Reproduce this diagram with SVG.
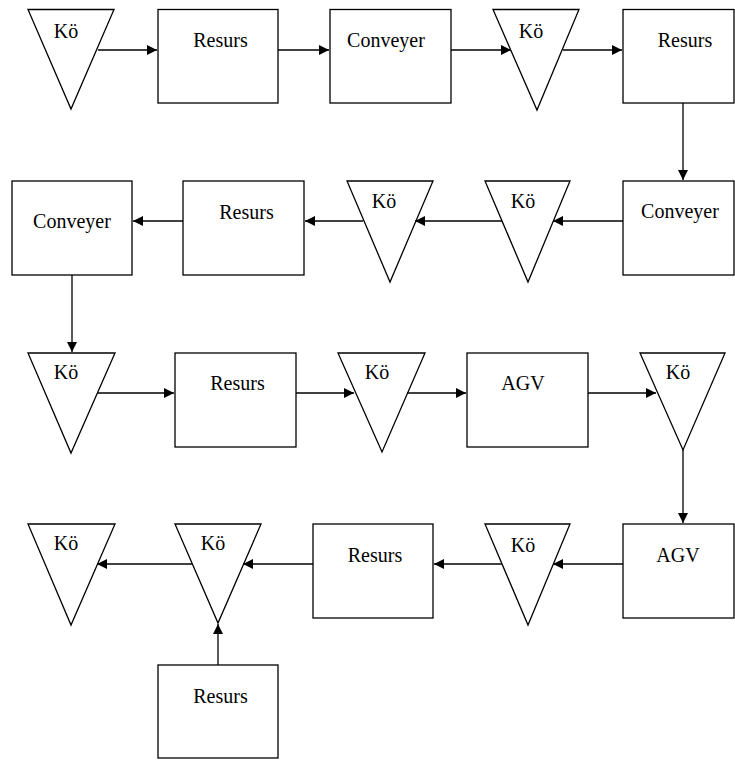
<svg xmlns="http://www.w3.org/2000/svg" width="735" height="760" viewBox="0 0 735 760">
  <style>
    .shape { fill: #ffffff; stroke: #000000; stroke-width: 1.3; }
    text { font-family: 'Liberation Serif', 'Times New Roman', serif; font-size: 20px; fill: #000000; text-anchor: middle; }
    .edge { fill: none; stroke: #000000; stroke-width: 1.3; marker-end: url(#arrow); }
  </style>
  <defs>
    <marker id="arrow" markerUnits="userSpaceOnUse" markerWidth="10" markerHeight="10" refX="10" refY="5" orient="auto">
      <path d="M0,0 L10,5 L0,10 z" fill="#000000"/>
    </marker>
  </defs>
  <rect x="0" y="0" width="735" height="760" fill="#ffffff"/>

  <g font-family="Liberation Serif, serif">
  <!-- Row 1 -->
  <g id="q1"><polygon class="shape" points="28,9.5 114,9.5 71,109"/><text x="66" y="38">Kö</text></g>
  <g id="r1"><rect class="shape" x="158" y="9.5" width="120" height="93.5"/><text x="220.5" y="47">Resurs</text></g>
  <g id="c1"><rect class="shape" x="330" y="9.5" width="121" height="93.5"/><text x="386" y="47">Conveyer</text></g>
  <g id="q2"><polygon class="shape" points="493,9.5 579,9.5 537,110"/><text x="531" y="38">Kö</text></g>
  <g id="r2"><rect class="shape" x="623" y="9.5" width="111" height="93.5"/><text x="685" y="47">Resurs</text></g>

  <!-- Row 2 -->
  <g id="c2"><rect class="shape" x="12" y="181" width="120" height="94"/><text x="72" y="228">Conveyer</text></g>
  <g id="r3"><rect class="shape" x="183" y="181" width="121" height="94"/><text x="246.5" y="219">Resurs</text></g>
  <g id="q3"><polygon class="shape" points="347,181 433,181 390,282"/><text x="384" y="208">Kö</text></g>
  <g id="q4"><polygon class="shape" points="485,181 570,181 528,282"/><text x="523" y="208">Kö</text></g>
  <g id="c3"><rect class="shape" x="623" y="181" width="111" height="94"/><text x="680" y="218">Conveyer</text></g>

  <!-- Row 3 -->
  <g id="q5"><polygon class="shape" points="28,353 115,353 71,453"/><text x="66" y="379">Kö</text></g>
  <g id="r4"><rect class="shape" x="175" y="353" width="121" height="94"/><text x="237.5" y="390">Resurs</text></g>
  <g id="q6"><polygon class="shape" points="338,353 425,353 382,452"/><text x="377" y="379">Kö</text></g>
  <g id="a1"><rect class="shape" x="467" y="353" width="121" height="94"/><text x="523" y="390">AGV</text></g>
  <g id="q7"><polygon class="shape" points="640,353 725,353 683,450"/><text x="678" y="379">Kö</text></g>

  <!-- Row 4 -->
  <g id="q8"><polygon class="shape" points="28,524 115,524 71,625"/><text x="66" y="550">Kö</text></g>
  <g id="q9"><polygon class="shape" points="175,524 261,524 218,623"/><text x="213" y="550">Kö</text></g>
  <g id="r5"><rect class="shape" x="313" y="524" width="120" height="94"/><text x="375" y="562">Resurs</text></g>
  <g id="q10"><polygon class="shape" points="485,524 570,524 528,625"/><text x="523" y="552">Kö</text></g>
  <g id="a2"><rect class="shape" x="623" y="524" width="111" height="94"/><text x="678" y="562">AGV</text></g>
  <g id="r6"><rect class="shape" x="158" y="665" width="120" height="93"/><text x="220.5" y="703">Resurs</text></g>
  </g>

  <!-- Connectors -->
  <g id="connectors">
    <line class="edge" x1="98" y1="50" x2="157" y2="50"/>
    <line class="edge" x1="278" y1="50" x2="329" y2="50"/>
    <line class="edge" x1="451" y1="50" x2="511" y2="50"/>
    <line class="edge" x1="563" y1="50" x2="622" y2="50"/>
    <line class="edge" x1="683" y1="103" x2="683" y2="180"/>

    <line class="edge" x1="623" y1="221" x2="553" y2="221"/>
    <line class="edge" x1="502" y1="221" x2="415" y2="221"/>
    <line class="edge" x1="363" y1="221" x2="305" y2="221"/>
    <line class="edge" x1="183" y1="221" x2="133" y2="221"/>
    <line class="edge" x1="72" y1="275" x2="72" y2="352"/>

    <line class="edge" x1="98" y1="393" x2="174" y2="393"/>
    <line class="edge" x1="296" y1="393" x2="354" y2="393"/>
    <line class="edge" x1="407" y1="393" x2="466" y2="393"/>
    <line class="edge" x1="588" y1="393" x2="656" y2="393"/>
    <line class="edge" x1="683" y1="450" x2="683" y2="523"/>

    <line class="edge" x1="623" y1="564" x2="553" y2="564"/>
    <line class="edge" x1="502" y1="564" x2="434" y2="564"/>
    <line class="edge" x1="313" y1="564" x2="243" y2="564"/>
    <line class="edge" x1="192" y1="564" x2="97" y2="564"/>
    <line class="edge" x1="218" y1="665" x2="218" y2="624"/>
  </g>
</svg>
